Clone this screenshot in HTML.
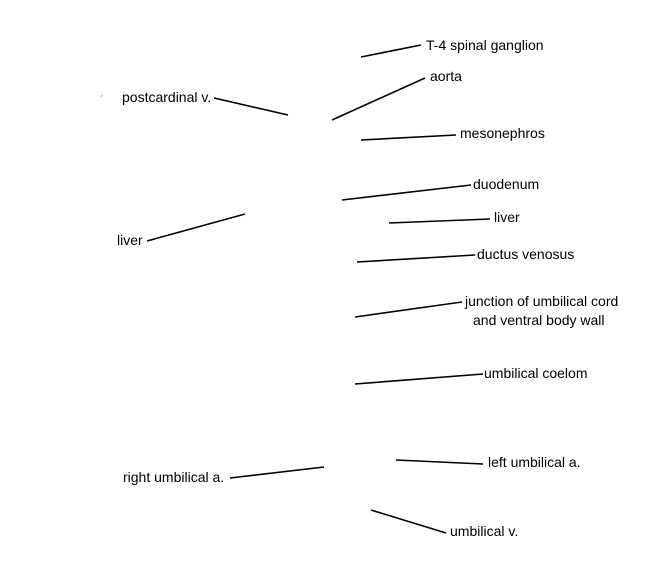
<!DOCTYPE html>
<html><head><style>
html,body{margin:0;padding:0;background:#fff;}
svg{display:block;}
text{font-family:"Liberation Sans",Arial,sans-serif;font-size:14px;fill:#000;}
line{stroke:#000;stroke-width:1.6;}
</style></head><body>
<svg width="650" height="582" viewBox="0 0 650 582">
<line x1="361" y1="57" x2="421" y2="45"/><text x="426" y="50">T-4 spinal ganglion</text>
<line x1="332" y1="120" x2="425" y2="78"/><text x="430" y="81">aorta</text>
<line x1="361" y1="140" x2="456" y2="135"/><text x="460" y="138">mesonephros</text>
<line x1="342" y1="200" x2="471" y2="185"/><text x="473" y="189">duodenum</text>
<line x1="389" y1="223" x2="490" y2="219"/><text x="494" y="222">liver</text>
<line x1="357" y1="262" x2="475" y2="255"/><text x="477" y="259">ductus venosus</text>
<line x1="355" y1="317" x2="462" y2="302"/><text x="465" y="306">junction of umbilical cord</text><text x="473" y="325">and ventral body wall</text>
<line x1="355" y1="384" x2="483" y2="374"/><text x="484" y="378">umbilical coelom</text>
<line x1="396" y1="460" x2="483" y2="464"/><text x="488" y="467">left umbilical a.</text>
<line x1="371" y1="510" x2="446" y2="533"/><text x="450" y="536">umbilical v.</text>
<text x="122" y="102">postcardinal v.</text><line x1="214" y1="98" x2="288" y2="115"/>
<text x="117" y="245">liver</text><line x1="147" y1="241" x2="245" y2="214"/>
<text x="123" y="482">right umbilical a.</text><line x1="230" y1="478" x2="324" y2="467"/>
<line x1="100" y1="97" x2="103" y2="95" style="stroke:#bbb;stroke-width:1"/>
</svg>
</body></html>
